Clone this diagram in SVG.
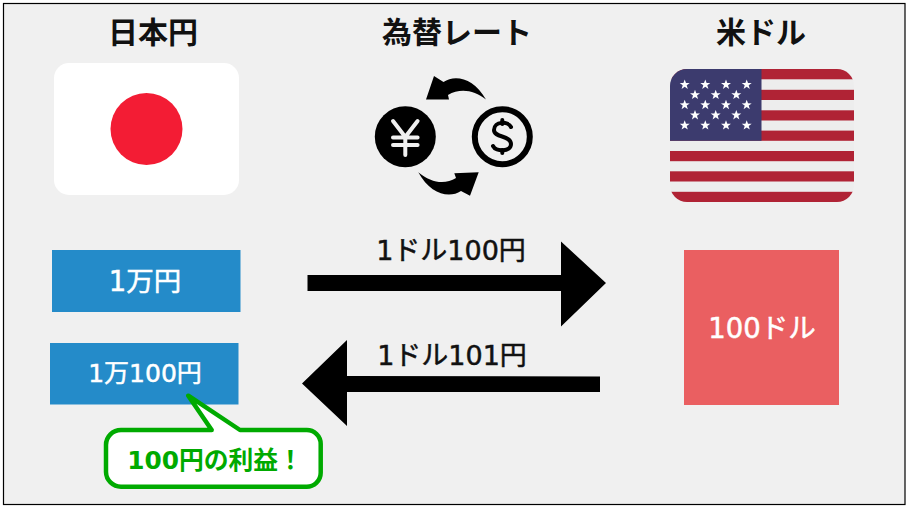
<svg xmlns="http://www.w3.org/2000/svg" width="909" height="509" viewBox="0 0 909 509">
<defs>
<style>
text{font-family:"DejaVu Sans","Noto Sans CJK JP",sans-serif;text-anchor:middle}
.h{font-size:30px;font-weight:700;fill:#111;font-family:"Noto Sans CJK JP",sans-serif}
.w{font-size:27.500px;fill:#fff;stroke:#fff;stroke-width:.5px;font-weight:400}
.l{font-size:27px;fill:#111;stroke:#111;stroke-width:.5px;font-weight:400}
.a{fill:#000}
.r{fill:#b02335}
</style>
<polygon id="s" points="0,-5.200 1.300,-1.700 5,-1.600 2,0.600 3.100,4.200 0,2.100 -3.100,4.200 -2,0.600 -5,-1.600 -1.300,-1.700" fill="#fff"/>
<clipPath id="fc"><rect x="670" y="69" width="184" height="133" rx="17"/></clipPath>
</defs>
<rect x="3.500" y="3.500" width="901.500" height="501" fill="#f0f0f0" stroke="#000" stroke-width="1.200"/>
<g id="node-jpy-title"><text class="h" x="153" y="43">日本円</text></g>
<g id="node-rate-title"><text class="h" x="457" y="43">為替レート</text></g>
<g id="node-usd-title"><text class="h" x="761" y="43">米ドル</text></g>
<g id="node-jp-flag">
<rect x="54" y="63" width="185" height="132" rx="15" fill="#fff"/>
<circle cx="146.500" cy="129" r="36" fill="#f31c34"/>
</g>
<g id="node-fx-icon">
<circle cx="405.300" cy="136.700" r="30.500" fill="#000"/>
<path d="M393,121 L405.300,137 L417.600,121 M393,137.500 H417.600 M393,145 H417.600 M405.300,137 V155" fill="none" stroke="#f0f0f0" stroke-width="4" stroke-linecap="round"/>
<circle cx="502.300" cy="136.700" r="27.500" fill="none" stroke="#000" stroke-width="6"/>
<path d="M511,127 C508,121 494,121 494,130 C494,138 511,135 511,144 C511,152 496,152 493,146" fill="none" stroke="#000" stroke-width="4" stroke-linecap="round"/>
<path d="M502.300,120 V124 M502.300,150 V153" stroke="#000" stroke-width="4" stroke-linecap="round"/>
<path class="a" d="M486,99.500 C474,78 455,74 443.500,82 L434,76 L426,99.500 L449,99.500 L448,95 C460,88 474,90 486,99.500Z"/>
<path class="a" d="M418.300,172.300 C430,194 449,199 461,191 L470,195.700 L478.700,172.300 L454.300,173.300 L456,178 C445,185 431,183 418.300,172.300Z"/>
</g>
<g id="node-us-flag">
<g clip-path="url(#fc)">
<rect x="670" y="69" width="184" height="133" fill="#ededed"/>
<rect class="r" x="670" y="69" width="184" height="10.300"/>
<rect class="r" x="670" y="89.800" width="184" height="10.200"/>
<rect class="r" x="670" y="110.300" width="184" height="10.200"/>
<rect class="r" x="670" y="130.600" width="184" height="10.200"/>
<rect class="r" x="670" y="151" width="184" height="10.200"/>
<rect class="r" x="670" y="171.300" width="184" height="10.200"/>
<rect class="r" x="670" y="191.800" width="184" height="10.200"/>
<rect x="670" y="69" width="91.500" height="71.800" fill="#3c3b6e"/>
</g>
<use href="#s" x="684.700" y="84.700"/><use href="#s" x="705.300" y="84.700"/><use href="#s" x="726" y="84.700"/><use href="#s" x="746.700" y="84.700"/>
<use href="#s" x="695" y="94.900"/><use href="#s" x="715.700" y="94.900"/><use href="#s" x="736.300" y="94.900"/>
<use href="#s" x="684.700" y="105"/><use href="#s" x="705.300" y="105"/><use href="#s" x="726" y="105"/><use href="#s" x="746.700" y="105"/>
<use href="#s" x="695" y="115.200"/><use href="#s" x="715.700" y="115.200"/><use href="#s" x="736.300" y="115.200"/>
<use href="#s" x="684.700" y="125.400"/><use href="#s" x="705.300" y="125.400"/><use href="#s" x="726" y="125.400"/><use href="#s" x="746.700" y="125.400"/>
</g>
<g id="node-10000jpy"><rect x="52" y="250" width="188.500" height="62" fill="#248bc9"/><text class="w" x="145" y="291">1万円</text></g>
<g id="node-10100jpy"><rect x="50" y="343" width="188.500" height="61.500" fill="#248bc9"/><text class="w" x="145" y="382" style="font-size:25px">1万100円</text></g>
<g id="node-100usd"><rect x="684" y="250" width="155" height="155" fill="#ea5f61"/><text class="w" x="762" y="338">100ドル</text></g>
<g id="connectors">
<polygon class="a" points="307.500,275 561,275 561,241.500 606,283 561,326.500 561,291 307.500,291"/>
<polygon class="a" points="600,376.500 347,376 347,340 302,383.500 347,426 347,392 600,392"/>
</g>
<g id="label-100"><text class="l" x="451" y="260">1ドル100円</text></g>
<g id="label-101"><text class="l" x="452" y="365">1ドル101円</text></g>
<g id="node-callout">
<path d="M121,430 H211.700 L188.300,395.700 L240,430 H306 A14,14 0 0 1 320.700,444 V472.700 A14,14 0 0 1 306,486.700 H121 A15,15 0 0 1 106,472 V445 A15,15 0 0 1 121,430Z" fill="#fff" stroke="#00aa00" stroke-width="4.500" stroke-linejoin="round"/>
<text x="215" y="469" style="font-size:24.800px;font-weight:700;fill:#00aa00">100円の利益！</text>
</g>
</svg>
